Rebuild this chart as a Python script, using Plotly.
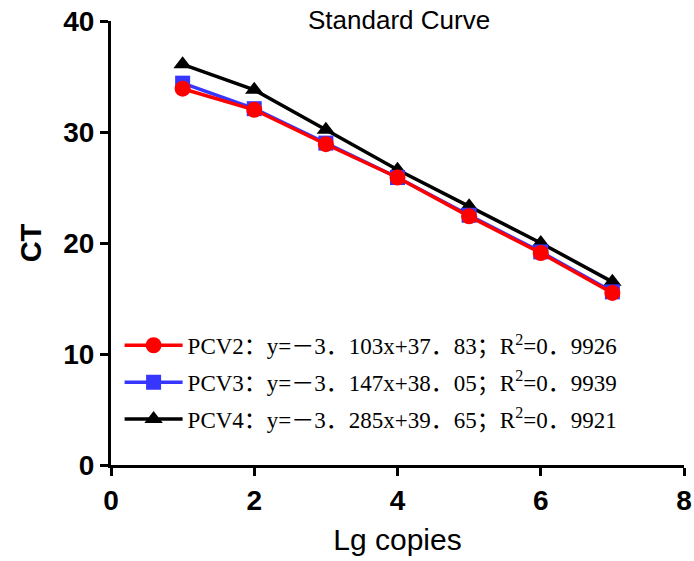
import plotly.graph_objects as go

lg_copies = [1, 2, 3, 4, 5, 6, 7]
ct_pcv2 = [33.9, 32.0, 28.9, 25.9, 22.4, 19.1, 15.5]
ct_pcv3 = [34.4, 32.1, 29.0, 25.9, 22.5, 19.2, 15.6]
ct_pcv4 = [36.1, 33.8, 30.2, 26.6, 23.3, 20.0, 16.5]

labels = [
    "PCV2：y=－3．103x+37．83；R<sup>2</sup>=0．9926",
    "PCV3：y=－3．147x+38．05；R<sup>2</sup>=0．9939",
    "PCV4：y=－3．285x+39．65；R<sup>2</sup>=0．9921",
]

fig = go.Figure()
fig.add_trace(go.Scatter(x=lg_copies, y=ct_pcv4, mode="lines+markers", name=labels[2],
                         legendgroup="c", legendrank=3,
                         line=dict(color="black", width=3.5),
                         marker=dict(symbol="triangle-up", size=16, color="black")))
fig.add_trace(go.Scatter(x=lg_copies, y=ct_pcv3, mode="lines+markers", name=labels[1],
                         legendgroup="b", legendrank=2,
                         line=dict(color="#3636ff", width=3.5),
                         marker=dict(symbol="square", size=15, color="#3636ff")))
fig.add_trace(go.Scatter(x=lg_copies, y=ct_pcv2, mode="lines+markers", name=labels[0],
                         legendgroup="a", legendrank=1,
                         line=dict(color="red", width=3.5),
                         marker=dict(symbol="circle", size=16, color="red")))

axis_common = dict(showline=True, linecolor="black", linewidth=3, ticks="outside",
                   ticklen=8, tickwidth=3, tickcolor="black", showgrid=False,
                   zeroline=False, mirror=False, automargin=False,
                   ticklabeloverflow="allow",
                   tickfont=dict(family="Liberation Sans", size=28, color="black", weight="bold"))

fig.update_layout(
    width=694, height=561,
    margin=dict(l=111, r=10, t=21, b=96),
    paper_bgcolor="white", plot_bgcolor="white",
    title=dict(text="Standard Curve", x=0.575, xanchor="center", y=0.965, yanchor="middle",
               font=dict(family="Liberation Sans", size=26, color="black")),
    xaxis=dict(range=[0, 8], dtick=2,
               title=dict(text="Lg copies", font=dict(family="Liberation Sans", size=30, color="black"),
                          standoff=15),
               **axis_common),
    yaxis=dict(range=[0, 40], dtick=10,
               title=dict(text="CT", font=dict(family="Liberation Sans", size=29, color="black", weight="bold"),
                          standoff=14),
               **axis_common),
    legend=dict(x=0.015, y=0.318, xanchor="left", yanchor="top", traceorder="grouped",
                bgcolor="rgba(0,0,0,0)", itemwidth=58, tracegroupgap=4,
                font=dict(family="Liberation Serif, Noto Sans CJK SC", size=23, color="black")),
    showlegend=True,
)

fig.write_html("out.html",
               config={"displayModeBar": False},
               post_script="document.body.style.margin='0';document.body.style.overflow='hidden';")
